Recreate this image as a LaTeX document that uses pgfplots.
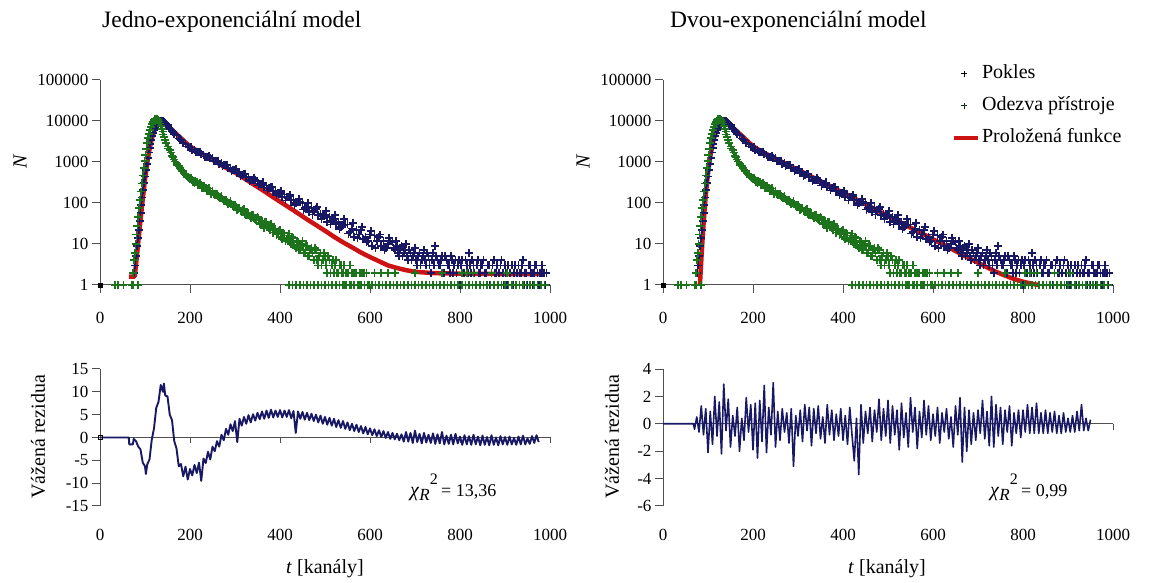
\documentclass[border=0pt]{standalone}
\usepackage{pgfplots}
\pgfplotsset{compat=1.18}
\usepackage{pgfplotstable}
\usepackage{fontspec}
\setmainfont{Liberation Serif}
\definecolor{pokles}{RGB}{24,24,100}
\definecolor{odezva}{RGB}{28,115,28}
\definecolor{fitred}{RGB}{204,18,18}
\definecolor{axgray}{RGB}{80,80,80}
\newcommand{\tickfont}{\fontsize{17}{17}\selectfont}
\newcommand{\labfont}{\fontsize{20}{22}\selectfont}

% Pokles (decay)
\pgfplotstableread[row sep=\\]{
x y\\
76 2\\ 78 3\\ 80 5\\ 82 9\\ 84 14\\ 86 22\\ 88 36\\ 90 56\\ 92 88\\ 94 135\\ 96 205\\ 98 310\\
100 440\\ 102 640\\ 104 910\\ 106 1240\\ 108 1690\\ 110 2180\\ 112 2790\\ 114 3480\\ 116 4280\\
118 5120\\ 120 5980\\ 122 6790\\ 124 7520\\ 126 8180\\ 128 8790\\ 130 9260\\ 132 9680\\ 134 9930\\
136 10080\\ 138 10010\\ 140 9790\\ 142 9450\\ 144 9050\\ 147 8300\\ 150 7930\\ 152 7400\\ 155 6480\\
157 6200\\ 160 5750\\ 162 5300\\ 165 4770\\ 170 4400\\ 175 3760\\ 180 3490\\ 185 2900\\ 190 2690\\
195 2380\\ 200 2240\\ 205 1970\\ 210 1990\\ 215 1800\\ 220 1760\\ 225 1560\\ 230 1515\\ 235 1360\\
240 1325\\ 245 1283\\ 250 1217\\ 255 1054\\ 260 1034\\ 265 899\\ 270 933\\ 275 833\\ 280 844\\
285 707\\ 290 697\\ 295 635\\ 300 628\\ 305 529\\ 310 561\\ 315 495\\ 320 498\\ 325 425\\ 330 423\\
335 371\\ 340 369\\ 345 365\\ 350 347\\ 355 286\\ 360 290\\ 365 240\\ 370 265\\ 375 229\\ 380 244\\
385 190\\ 390 194\\ 395 173\\ 400 177\\ 405 140\\ 410 160\\ 415 137\\ 420 143\\ 425 115\\ 430 119\\
435 99\\ 440 103\\ 445 105\\ 450 101\\ 455 77\\ 460 81\\ 465 61\\ 470 76\\ 475 63\\ 480 72\\ 485 50\\
490 54\\ 495 47\\ 500 51\\ 505 35\\ 510 46\\ 515 37\\ 520 41\\ 525 31\\ 530 34\\ 535 26\\ 540 29\\
545 30\\ 550 30\\ 555 20\\ 560 24\\ 565 15\\ 570 22\\ 575 17\\ 580 22\\ 585 13\\ 590 15\\ 595 12\\
600 17\\ 605 9\\ 610 16\\ 615 12\\ 620 15\\ 625 9\\ 630 12\\ 635 8\\ 640 10\\ 645 12\\ 650 11\\
655 7\\ 660 9\\ 665 5\\ 670 9\\ 675 6\\ 680 10\\ 685 4\\ 690 6\\ 695 5\\ 700 8\\ 705 3\\ 710 6\\
715 4\\ 720 7\\ 725 3\\ 730 5\\ 735 2\\ 740 6\\ 745 9\\ 750 4\\ 755 3\\ 760 5\\ 765 2\\ 770 4\\
775 3\\ 780 5\\ 785 2\\ 790 4\\ 795 3\\ 800 1\\ 805 4\\ 810 2\\ 815 3\\ 820 6\\ 825 2\\ 830 3\\
835 1\\ 840 4\\ 845 2\\ 850 3\\ 855 2\\ 860 1\\ 865 3\\ 870 2\\ 875 4\\ 880 2\\ 885 1\\ 890 3\\
895 2\\ 900 3\\ 905 1\\ 910 2\\ 915 3\\ 920 2\\ 925 1\\ 930 3\\ 935 2\\ 940 4\\ 945 2\\ 950 1\\
955 3\\ 960 2\\ 965 2\\ 970 3\\ 975 1\\ 980 2\\ 985 2\\ 990 1\\
652 8\\ 657 12\\ 662 6\\ 667 8\\ 672 5\\ 677 7\\ 682 5\\ 687 7\\ 692 4\\ 697 6\\ 702 4\\ 707 5\\
712 3\\ 717 5\\ 722 4\\ 727 6\\ 732 3\\ 737 4\\ 742 3\\ 747 5\\ 752 3\\ 757 4\\ 762 2\\ 767 5\\
772 3\\ 777 2\\ 782 4\\ 787 3\\ 792 2\\ 797 4\\ 802 3\\ 807 2\\ 812 4\\ 817 2\\ 822 3\\ 827 4\\
832 2\\ 837 3\\ 842 2\\ 847 3\\ 852 4\\ 857 2\\ 862 3\\ 867 1\\ 872 3\\ 877 2\\ 882 3\\ 887 2\\
892 4\\ 897 1\\ 902 2\\ 907 3\\ 912 2\\ 917 1\\ 922 3\\ 927 2\\ 932 2\\ 937 3\\ 942 1\\ 947 2\\
952 3\\ 957 2\\ 962 1\\ 967 3\\ 972 2\\ 977 2\\ 982 3\\ 987 2\\ 992 2\\
202 2270\\ 212 1770\\ 222 1775\\ 232 1355\\ 242 1380\\ 252 1035\\ 262 1078\\ 272 792\\ 282 841\\
292 605\\ 302 662\\ 312 457\\ 322 516\\ 332 350\\ 342 407\\ 352 267\\ 362 318\\ 372 202\\ 382 250\\
392 155\\ 402 197\\ 412 116\\ 422 156\\ 432 90\\ 442 124\\ 452 69\\ 462 99\\ 472 52\\ 482 79\\
492 40\\ 502 63\\ 512 30\\ 522 50\\ 532 23\\ 542 41\\ 552 18\\ 562 33\\ 572 14\\ 582 26\\ 592 11\\
602 21\\ 612 8\\ 622 17\\ 632 7\\ 642 14\\
}\tblue

% Odezva pristroje (instrument response)
\pgfplotstableread[row sep=\\]{
x y\\
33 1\\ 40 1\\ 52 1\\ 70 1\\ 74 1\\ 84 1\\
73 2\\ 75 4\\ 77 6\\ 79 10\\ 81 17\\ 83 28\\ 85 45\\ 87 75\\ 89 120\\ 91 190\\ 93 300\\ 95 470\\
97 720\\ 99 1050\\ 101 1500\\ 103 2100\\ 105 2900\\ 107 3800\\ 109 4900\\ 111 6000\\ 113 7200\\
115 8300\\ 117 9300\\ 119 10200\\ 121 10900\\ 123 11300\\ 125 11400\\ 127 11200\\ 129 10600\\
131 9800\\ 133 8700\\ 135 7600\\ 137 6500\\ 139 5500\\ 141 4700\\ 143 4000\\ 145 3400\\ 147 2900\\
150 2400\\ 152 2150\\ 155 1960\\ 157 1700\\ 160 1420\\ 162 1300\\ 165 1160\\ 167 1020\\ 170 893\\
172 860\\ 175 811\\ 177 720\\ 180 653\\ 185 610\\ 190 478\\ 195 442\\ 200 380\\ 205 372\\ 210 312\\
215 324\\ 220 283\\ 225 281\\ 230 236\\ 235 233\\ 240 200\\ 245 198\\ 250 193\\ 255 155\\ 260 167\\
265 138\\ 270 145\\ 275 114\\ 280 120\\ 285 93\\ 290 109\\ 295 86\\ 300 90\\ 305 69\\ 310 76\\
315 62\\ 320 70\\ 325 51\\ 330 57\\ 335 43\\ 340 51\\ 345 40\\ 350 45\\ 355 31\\ 360 36\\ 365 25\\
370 34\\ 375 25\\ 380 31\\ 385 19\\ 390 23\\ 395 18\\ 400 22\\ 405 13\\ 410 18\\ 415 13\\ 420 18\\
425 10\\ 430 14\\ 435 8\\ 440 11\\ 445 8\\ 450 12\\ 455 6\\ 460 9\\ 465 5\\ 470 8\\ 475 4\\ 480 7\\
485 3\\ 490 6\\ 495 4\\ 500 5\\ 505 2\\ 510 4\\ 515 3\\ 520 2\\ 525 4\\ 530 2\\ 535 3\\ 540 2\\
545 1\\ 550 2\\ 555 3\\ 560 2\\ 565 1\\ 570 2\\ 575 1\\ 580 2\\
182 600\\ 187 520\\ 192 470\\ 197 400\\
202 408\\ 207 322\\ 212 352\\ 217 269\\ 222 304\\ 227 228\\ 232 263\\ 237 193\\ 242 227\\ 247 164\\
252 170\\ 257 160\\ 262 148\\ 267 130\\ 272 125\\ 277 118\\ 282 105\\ 287 100\\ 292 92\\ 297 80\\
302 82\\ 307 72\\ 312 65\\ 317 66\\ 322 55\\ 327 58\\ 332 48\\ 337 50\\ 342 44\\ 347 38\\
352 42\\ 357 33\\ 362 30\\ 367 35\\ 372 27\\ 377 22\\ 382 26\\ 387 24\\ 392 17\\ 397 21\\ 402 15\\
407 19\\ 412 12\\ 417 16\\ 422 11\\ 427 15\\ 432 9\\ 437 12\\ 442 7\\ 447 10\\ 452 6\\ 457 9\\
462 5\\ 467 7\\ 472 6\\ 477 8\\ 482 4\\ 487 5\\ 492 3\\ 497 6\\ 502 3\\ 507 5\\ 512 2\\ 517 4\\
522 3\\ 527 2\\ 532 3\\ 537 2\\ 542 3\\ 547 2\\ 552 2\\ 557 1\\ 562 2\\ 567 2\\ 572 1\\ 577 2\\
582 2\\ 587 2\\ 592 2\\ 597 1\\ 610 2\\ 625 2\\ 640 2\\ 655 2\\ 700 2\\ 760 2\\ 805 2\\ 815 2\\
830 2\\ 870 2\\ 905 2\\
420 1\\ 428 1\\ 436 1\\ 444 1\\ 452 1\\ 460 1\\ 468 1\\ 476 1\\ 484 1\\ 492 1\\ 500 1\\ 508 1\\
516 1\\ 524 1\\ 532 1\\ 540 1\\ 548 1\\ 556 1\\ 564 1\\ 572 1\\ 580 1\\ 588 1\\ 596 1\\ 604 1\\
612 1\\ 620 1\\ 628 1\\ 636 1\\ 644 1\\ 652 1\\ 660 1\\ 668 1\\ 676 1\\ 684 1\\ 692 1\\ 700 1\\
708 1\\ 716 1\\ 724 1\\ 732 1\\ 740 1\\ 748 1\\ 756 1\\ 764 1\\ 772 1\\ 780 1\\ 788 1\\ 796 1\\
804 1\\ 812 1\\ 820 1\\ 828 1\\ 836 1\\ 844 1\\ 852 1\\ 860 1\\ 868 1\\ 876 1\\ 884 1\\ 892 1\\
900 1\\ 908 1\\ 916 1\\ 924 1\\ 932 1\\ 940 1\\ 948 1\\ 956 1\\ 964 1\\ 972 1\\ 980 1\\ 988 1\\
}\tgreen

% fit, one exponential
\pgfplotstableread[row sep=\\]{
x y\\
64 1.6\\ 77 1.6\\ 79 2.5\\ 81 4\\ 83 6.5\\ 85 11\\ 87 18\\ 89 30\\ 91 48\\ 93 78\\ 95 125\\
97 195\\ 99 300\\ 101 450\\ 103 660\\ 105 940\\ 107 1300\\ 109 1750\\ 111 2280\\ 113 2900\\
115 3600\\ 117 4350\\ 119 5100\\ 121 5850\\ 123 6550\\ 125 7200\\ 127 7750\\ 129 8200\\ 131 8550\\
133 8800\\ 135 8950\\ 137 9000\\ 139 8950\\ 141 8800\\ 145 8400\\ 150 7600\\ 160 6100\\ 170 4800\\
180 3800\\ 190 3000\\ 200 2400\\ 210 2050\\ 220 1750\\ 230 1500\\ 240 1300\\ 250 1130\\ 260 970\\
270 830\\ 280 720\\ 290 630\\ 300 555\\ 320 400\\ 340 290\\ 360 210\\ 380 150\\ 400 108\\ 420 78\\
440 56\\ 460 40\\ 480 29\\ 500 21\\ 520 15\\ 540 11\\ 560 8.3\\ 580 6.2\\ 600 4.8\\ 620 3.8\\
640 3.0\\ 660 2.6\\ 680 2.3\\ 700 2.1\\ 740 1.95\\ 800 1.88\\ 900 1.85\\ 978 1.85\\
}\tfitA

% fit, two exponentials
\pgfplotstableread[row sep=\\]{
x y\\
82 1\\ 84 2.5\\ 86 6\\ 88 14\\ 90 30\\ 92 60\\ 94 115\\ 96 200\\ 98 330\\ 100 520\\ 102 780\\
104 1120\\ 106 1550\\ 108 2050\\ 110 2650\\ 112 3300\\ 114 4000\\ 116 4750\\ 118 5500\\ 120 6200\\
122 6900\\ 124 7500\\ 126 8000\\ 128 8450\\ 130 8800\\ 132 9050\\ 134 9200\\ 136 9250\\ 138 9200\\
140 9050\\ 145 8500\\ 150 7700\\ 160 6200\\ 170 4900\\ 180 3900\\ 190 3050\\ 200 2450\\ 220 1750\\
240 1380\\ 260 1060\\ 280 820\\ 300 640\\ 320 500\\ 340 385\\ 360 300\\ 380 230\\ 400 178\\
420 138\\ 440 106\\ 460 82\\ 480 63\\ 500 48\\ 520 37\\ 540 28.5\\ 560 22\\ 580 17\\ 600 13\\
620 10\\ 640 7.7\\ 660 5.9\\ 680 4.5\\ 700 3.5\\ 720 2.7\\ 740 2.1\\ 760 1.7\\ 780 1.4\\ 800 1.2\\
820 1.07\\ 835 1.0\\
}\tfitB

% weighted residuals, one exponential
\pgfplotstableread[row sep=\\]{
x y\\
0 0\\ 64 0\\ 65 -1.5\\ 73 -1.5\\ 75 -0.3\\ 80 -0.8\\ 85 -2.0\\ 90 -2.6\\ 95 -5.5\\ 100 -6.3\\ 102 -8.0\\
105 -5.9\\ 110 -4.8\\ 115 -0.5\\ 120 2.0\\ 125 6.5\\ 130 7.8\\ 135 11.5\\ 140 10.0\\ 142 11.8\\
145 9.2\\ 150 9.0\\ 155 5.0\\ 160 3.8\\ 165 -0.8\\ 170 -2.4\\ 175 -6.3\\ 180 -5.8\\ 185 -8.5\\
190 -6.4\\ 195 -9.2\\ 200 -6.9\\ 205 -8.3\\ 210 -6.0\\ 215 -7.8\\ 220 -5.5\\ 225 -9.5\\ 230 -4.6\\
235 -5.6\\ 240 -3.1\\ 245 -4.8\\ 250 -2.0\\ 255 -3.0\\ 260 -0.8\\ 265 -2.0\\ 270 0.6\\ 275 -0.6\\
280 1.9\\ 285 0.6\\ 290 2.9\\ 295 1.4\\ 300 3.6\\ 305 -1.0\\ 310 4.1\\ 315 2.6\\ 320 4.5\\
325 3.0\\ 330 4.9\\ 335 3.3\\ 340 5.1\\ 345 3.7\\ 350 5.4\\ 355 4.0\\ 360 5.7\\ 365 4.1\\ 370 5.9\\
375 4.3\\ 380 6.1\\ 385 4.4\\ 390 5.9\\ 395 4.5\\ 400 6.0\\ 405 4.4\\ 410 5.9\\ 415 4.5\\ 420 6.0\\
425 4.2\\ 430 5.8\\ 435 1.0\\ 440 5.7\\ 445 4.1\\ 450 5.6\\ 455 3.9\\ 460 5.4\\ 465 3.8\\ 470 5.2\\
475 3.6\\ 480 5.0\\ 485 3.3\\ 490 4.8\\ 495 3.0\\ 500 4.5\\ 505 2.8\\ 510 4.3\\ 515 2.6\\ 520 4.1\\
525 2.3\\ 530 3.8\\ 535 2.1\\ 540 3.6\\ 545 1.9\\ 550 3.3\\ 555 1.6\\ 560 3.0\\ 565 1.4\\ 570 2.8\\
575 1.2\\ 580 2.5\\ 585 0.9\\ 590 2.3\\ 595 0.7\\ 600 2.0\\ 605 0.5\\ 610 1.8\\ 615 0.3\\ 620 1.6\\
625 0.1\\ 630 1.4\\ 635 -0.1\\ 640 1.2\\ 645 -0.3\\ 650 1.0\\ 655 -0.4\\ 660 0.8\\ 665 -0.6\\
670 0.7\\ 675 -0.9\\ 680 1.2\\ 685 -0.9\\ 690 1.0\\ 695 -1.2\\ 700 1.5\\ 705 -1.0\\ 710 0.8\\
715 -1.3\\ 720 1.0\\ 725 -1.1\\ 730 0.6\\ 735 -1.2\\ 740 0.9\\ 745 -1.4\\ 750 0.7\\ 755 -1.3\\
760 1.2\\ 765 -1.5\\ 770 0.4\\ 775 -1.4\\ 780 0.6\\ 785 -1.5\\ 790 0.8\\ 795 -1.3\\ 800 0.2\\
805 -1.6\\ 810 0.5\\ 815 -1.5\\ 820 0.3\\ 825 -1.6\\ 830 0.6\\ 835 -1.5\\ 840 0.2\\ 845 -1.7\\
850 0.4\\ 855 -1.6\\ 860 0.1\\ 865 -1.7\\ 870 0.5\\ 875 -1.6\\ 880 0.0\\ 885 -1.7\\ 890 0.3\\
895 -1.5\\ 900 0.1\\ 905 -1.6\\ 910 0.2\\ 915 -1.5\\ 920 -0.1\\ 925 -1.6\\ 930 0.2\\ 935 -1.5\\
940 0.4\\ 945 -1.5\\ 950 -0.2\\ 955 -1.4\\ 960 0.3\\ 965 -1.2\\ 970 0.5\\ 975 -1.0\\
}\tresA

% weighted residuals, two exponentials
\pgfplotstableread[row sep=\\]{
x y\\
0 0\\ 68 0\\ 70 -0.4\\ 75 0.5\\ 80 -0.6\\ 85 1.3\\ 90 -0.8\\ 95 1.1\\ 100 -2.1\\ 105 0.9\\
110 -1.5\\ 115 2.0\\ 120 -0.9\\ 125 1.6\\ 130 -2.2\\ 135 2.9\\ 140 -0.5\\ 145 1.8\\ 150 -1.7\\
155 0.6\\ 160 -0.9\\ 165 1.2\\ 170 -2.0\\ 175 0.4\\ 180 -1.2\\ 185 1.9\\ 190 -0.6\\ 195 1.4\\
200 -1.9\\ 205 1.5\\ 210 -2.5\\ 215 1.7\\ 220 -1.3\\ 225 2.8\\ 230 -2.1\\ 235 1.2\\ 240 -0.8\\
245 3.0\\ 250 -1.7\\ 255 0.9\\ 260 -1.2\\ 265 1.1\\ 270 -0.6\\ 275 0.8\\ 280 -1.4\\ 285 1.1\\
290 -3.1\\ 295 0.6\\ 300 -0.9\\ 305 1.0\\ 310 -1.3\\ 315 1.4\\ 320 -0.5\\ 325 1.2\\ 330 -1.6\\
335 1.1\\ 340 -0.7\\ 345 1.3\\ 350 -1.1\\ 355 0.5\\ 360 -1.4\\ 365 1.4\\ 370 -0.8\\ 375 1.0\\
380 -1.2\\ 385 0.7\\ 390 -0.9\\ 395 1.1\\ 400 -1.2\\ 405 0.6\\ 410 -1.5\\ 415 1.2\\ 420 -0.8\\
425 -2.7\\ 430 0.4\\ 435 -3.7\\ 440 1.4\\ 445 -1.4\\ 450 0.9\\ 455 -0.7\\ 460 1.2\\ 465 -1.3\\
470 1.0\\ 475 -0.6\\ 480 1.8\\ 485 -1.2\\ 490 1.1\\ 495 -0.9\\ 500 1.7\\ 505 -1.4\\ 510 1.3\\
515 -0.8\\ 520 1.0\\ 525 -1.9\\ 530 1.5\\ 535 -1.0\\ 540 0.8\\ 545 -1.7\\ 550 1.9\\ 555 -0.6\\
560 1.2\\ 565 -1.8\\ 570 0.9\\ 575 -1.0\\ 580 1.7\\ 585 -0.8\\ 590 1.3\\ 595 -1.2\\ 600 0.7\\
605 -0.9\\ 610 1.2\\ 615 -1.4\\ 620 0.8\\ 625 -0.6\\ 630 1.1\\ 635 -1.1\\ 640 0.5\\ 645 -1.7\\
650 1.3\\ 655 -0.8\\ 660 1.9\\ 665 -2.8\\ 670 1.2\\ 675 -2.0\\ 680 1.0\\ 685 -1.5\\ 690 0.8\\
695 -1.2\\ 700 1.0\\ 705 -0.7\\ 710 1.7\\ 715 -1.1\\ 720 0.9\\ 725 -1.6\\ 730 2.0\\ 735 -1.7\\
740 1.4\\ 745 -0.9\\ 750 1.2\\ 755 -1.5\\ 760 1.0\\ 765 -0.6\\ 770 1.3\\ 775 -1.6\\ 780 0.8\\
785 -0.7\\ 790 1.0\\ 795 -1.0\\ 800 1.0\\ 805 -0.6\\ 810 1.4\\ 815 -0.7\\ 820 1.2\\ 825 -0.7\\
830 1.5\\ 835 -0.7\\ 840 0.8\\ 845 -0.7\\ 850 1.0\\ 855 -0.7\\ 860 0.8\\ 865 -0.6\\ 870 0.9\\
875 -0.7\\ 880 0.6\\ 885 -0.7\\ 890 0.8\\ 895 -0.6\\ 900 0.4\\ 905 -0.6\\ 910 0.6\\ 915 -0.6\\
920 0.9\\ 925 -0.5\\ 930 1.4\\ 935 -0.5\\ 940 0.4\\ 945 -0.5\\ 950 0.3\\
}\tresB

\pgfplotsset{
  common/.style={
    scale only axis, anchor=south west, width=450pt,
    xmin=0, xmax=1000, xtick={0,200,400,600,800,1000},
    xticklabels={0,200,400,600,800,1000},
    axis x line*=bottom, axis y line*=left,
    axis line style={axgray, line width=1pt, -},
    tick style={axgray, line width=1pt},
    major tick length=8pt, tick align=outside,
    xminorticks=false, yminorticks=false,
    ticklabel style={font=\tickfont},
    /pgf/number format/assume math mode=true,
    clip=false,
  },
  topax/.style={common, height=205pt, ymin=1, ymax=100000,
    ytick={1,10,100,1000,10000,100000},
    yticklabels={1,10,100,1000,10000,100000},
    xticklabel style={yshift=-16pt},
  },
  botax/.style={common, height=137pt,
    x axis line style={draw=none}, xtick style={draw=none},
    xticklabel style={yshift=-12pt},
  },
  pmark/.style={only marks, mark=+, mark size=4pt, mark options={line width=1.7pt}},
}

\begin{document}
\begin{tikzpicture}
\path[use as bounding box] (0pt,0pt) rectangle (1149pt,583pt);

% ---------- top left ----------
\begin{semilogyaxis}[topax, at={(100pt,298pt)}]
\addplot[pmark, color=pokles] table {\tblue};
\addplot[pmark, color=odezva] table {\tgreen};
\addplot[fitred, line width=4.5pt, line join=round] table {\tfitA};
\addplot[only marks, mark=square*, mark size=2pt, black] coordinates {(0,1)};
\end{semilogyaxis}

% ---------- top right ----------
\begin{semilogyaxis}[topax, at={(663pt,298pt)},
  legend style={draw=none, fill=none, at={(0.642,1.085)}, anchor=north west,
    font=\labfont, row sep=10pt, inner sep=0pt,
    nodes={inner sep=2pt, text height=14pt, text depth=4pt}},
  legend cell align=left]
\addplot[pmark, color=pokles, legend image code/.code={
   \draw[black, line width=0.7pt, solid] (7pt,0pt) -- (13pt,0pt);
   \draw[black, line width=0.7pt, solid] (10pt,-3pt) -- (10pt,3pt);
   \path[draw=none] (0pt,0pt) (24pt,0pt);}] table {\tblue};
\addlegendentry{Pokles}
\addplot[pmark, color=odezva, legend image code/.code={
   \draw[black!60!odezva, line width=0.7pt, solid] (7pt,0pt) -- (13pt,0pt);
   \draw[black!60!odezva, line width=0.7pt, solid] (10pt,-3pt) -- (10pt,3pt);
   \path[draw=none] (0pt,0pt) (24pt,0pt);}] table {\tgreen};
\addlegendentry{Odezva přístroje}
\addplot[fitred, line width=4.5pt, line join=round, legend image code/.code={
   \draw[fitred, line width=4pt] (0pt,0pt) -- (24pt,0pt);}] table {\tfitB};
\addlegendentry{Proložená funkce}
\addplot[only marks, mark=square*, mark size=2pt, black, forget plot] coordinates {(0,1)};
\end{semilogyaxis}

% ---------- bottom left ----------
\begin{axis}[botax, at={(100pt,77pt)}, ymin=-15, ymax=15, ytick={-15,-10,...,15}]
\draw[axgray, line width=1pt] (axis cs:0,0) -- (axis cs:1000,0);
\draw[axgray, line width=1pt] (axis cs:200,0) -- ++(0pt,-6pt);
\draw[axgray, line width=1pt] (axis cs:400,0) -- ++(0pt,-6pt);
\draw[axgray, line width=1pt] (axis cs:600,0) -- ++(0pt,-6pt);
\draw[axgray, line width=1pt] (axis cs:800,0) -- ++(0pt,-6pt);
\draw[axgray, line width=1pt] (axis cs:1000,0) -- ++(0pt,-6pt);
\addplot[pokles, line width=1.9pt, line join=round] table {\tresA};
\addplot[only marks, mark=square, mark size=2pt, black, mark options={fill=white}] coordinates {(0,0)};
\end{axis}

% ---------- bottom right ----------
\begin{axis}[botax, at={(663pt,77pt)}, ymin=-6, ymax=4, ytick={-6,-4,...,4}]
\draw[axgray, line width=1pt] (axis cs:0,0) -- (axis cs:1000,0);
\draw[axgray, line width=1pt] (axis cs:1000,0) -- ++(0pt,-6pt);
\addplot[pokles, line width=1.6pt, line join=round] table {\tresB};
\end{axis}

% ---------- texts ----------
\node[anchor=base west, font=\fontsize{23.5}{26}\selectfont, inner sep=0pt] at (102pt,555pt) {Jedno-exponenciální model};
\node[anchor=base west, font=\fontsize{23.5}{26}\selectfont, inner sep=0pt] at (670pt,555pt) {Dvou-exponenciální model};
\node[rotate=90, font=\labfont\itshape] at (20pt,421pt) {N};
\node[rotate=90, font=\labfont\itshape] at (583pt,421pt) {N};
\node[rotate=90, font=\labfont] at (38pt,146pt) {Vážená rezidua};
\node[rotate=90, font=\labfont] at (612pt,146pt) {Vážená rezidua};
\node[font=\labfont] at (325pt,14pt) {\textit{t} [kanály]};
\node[font=\labfont] at (887pt,14pt) {\textit{t} [kanály]};
\node[anchor=base west, font=\labfont, inner sep=0pt] at (410pt,86pt)
  {\textit{χ}\raisebox{-4pt}{\fontsize{17}{17}\selectfont\textit{R}}\raisebox{12pt}[0pt][0pt]{\fontsize{16}{16}\selectfont 2}\,{\fontsize{18}{18}\selectfont = 13,36}};
\node[anchor=base west, font=\labfont, inner sep=0pt] at (990pt,86pt)
  {\textit{χ}\raisebox{-4pt}{\fontsize{17}{17}\selectfont\textit{R}}\raisebox{12pt}[0pt][0pt]{\fontsize{16}{16}\selectfont 2}\,{\fontsize{18}{18}\selectfont = 0,99}};
\end{tikzpicture}
\end{document}
